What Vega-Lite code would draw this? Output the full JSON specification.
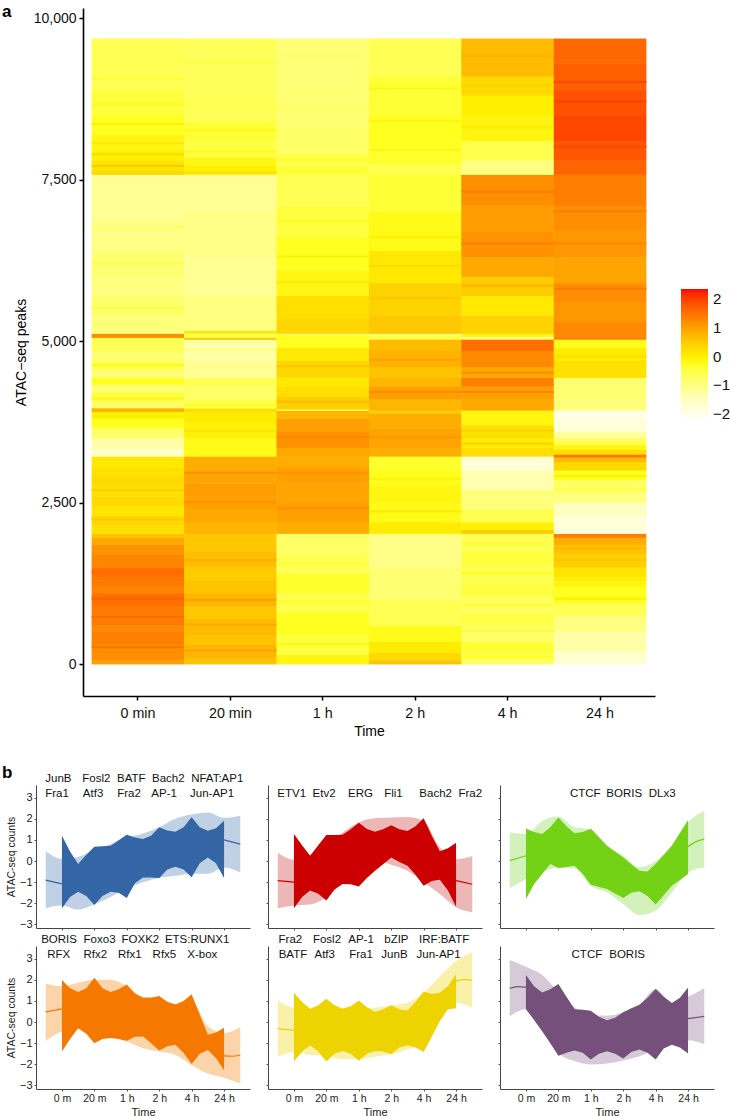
{"$schema":"https://vega.github.io/schema/vega-lite/v6.json","background":"white","padding":{"left":1,"top":2,"right":0,"bottom":0},"config":{"font":"Liberation Sans","view":{"stroke":null},"axis":{"grid":false,"labelFont":"Liberation Sans","titleFont":"Liberation Sans","titleFontWeight":"normal"},"text":{"font":"Liberation Sans"}},"bounds":"flush","spacing":89,"datasets":{
"heat":[
{"t":"0 min","a":0,"b":60,"v":1.0},{"t":"0 min","a":60,"b":300,"v":1.2},{"t":"0 min","a":300,"b":500,"v":1.35},{"t":"0 min","a":500,"b":600,"v":1.25},{"t":"0 min","a":600,"b":900,"v":1.4},{"t":"0 min","a":900,"b":1100,"v":1.5},{"t":"0 min","a":1100,"b":1200,"v":1.3},{"t":"0 min","a":1200,"b":1350,"v":1.42},{"t":"0 min","a":1350,"b":1500,"v":1.48},{"t":"0 min","a":1500,"b":1700,"v":1.3},{"t":"0 min","a":1700,"b":1850,"v":1.15},{"t":"0 min","a":1850,"b":1960,"v":0.9},{"t":"0 min","a":1960,"b":2021,"v":0.6},
{"t":"0 min","a":2021,"b":2150,"v":0.2},{"t":"0 min","a":2150,"b":2300,"v":0.35},{"t":"0 min","a":2300,"b":2450,"v":0.15},{"t":"0 min","a":2450,"b":2600,"v":0.3},{"t":"0 min","a":2600,"b":2750,"v":0.2},{"t":"0 min","a":2750,"b":2900,"v":0.3},{"t":"0 min","a":2900,"b":3050,"v":0.2},{"t":"0 min","a":3050,"b":3218,"v":0.1},
{"t":"0 min","a":3218,"b":3330,"v":-1.6},{"t":"0 min","a":3330,"b":3500,"v":-1.3},{"t":"0 min","a":3500,"b":3650,"v":-0.8},{"t":"0 min","a":3650,"b":3800,"v":-0.3},{"t":"0 min","a":3800,"b":3905,"v":0.0},{"t":"0 min","a":3905,"b":3965,"v":0.8},{"t":"0 min","a":3965,"b":4060,"v":-0.8},{"t":"0 min","a":4060,"b":4200,"v":-0.5},{"t":"0 min","a":4200,"b":4330,"v":-0.7},{"t":"0 min","a":4330,"b":4435,"v":-0.3},{"t":"0 min","a":4435,"b":4550,"v":-0.9},{"t":"0 min","a":4550,"b":4700,"v":-0.6},{"t":"0 min","a":4700,"b":4850,"v":-0.85},{"t":"0 min","a":4850,"b":5056,"v":-0.6},{"t":"0 min","a":5056,"b":5116,"v":1.2},
{"t":"0 min","a":5116,"b":5400,"v":-0.95},{"t":"0 min","a":5400,"b":5700,"v":-0.8},{"t":"0 min","a":5700,"b":6000,"v":-1.0},{"t":"0 min","a":6000,"b":6400,"v":-0.85},{"t":"0 min","a":6400,"b":6900,"v":-1.05},{"t":"0 min","a":6900,"b":7580,"v":-1.15},
{"t":"0 min","a":7580,"b":7650,"v":0.3},{"t":"0 min","a":7650,"b":7800,"v":0.15},{"t":"0 min","a":7800,"b":7950,"v":0.0},{"t":"0 min","a":7950,"b":8200,"v":-0.15},{"t":"0 min","a":8200,"b":8500,"v":-0.3},{"t":"0 min","a":8500,"b":8900,"v":-0.45},{"t":"0 min","a":8900,"b":9684,"v":-0.6},
{"t":"20 min","a":0,"b":100,"v":0.6},{"t":"20 min","a":100,"b":300,"v":0.75},{"t":"20 min","a":300,"b":450,"v":0.6},{"t":"20 min","a":450,"b":700,"v":0.7},{"t":"20 min","a":700,"b":900,"v":0.55},{"t":"20 min","a":900,"b":1100,"v":0.75},{"t":"20 min","a":1100,"b":1300,"v":0.6},{"t":"20 min","a":1300,"b":1500,"v":0.5},{"t":"20 min","a":1500,"b":1750,"v":0.65},{"t":"20 min","a":1750,"b":2021,"v":0.55},
{"t":"20 min","a":2021,"b":2200,"v":0.75},{"t":"20 min","a":2200,"b":2400,"v":0.9},{"t":"20 min","a":2400,"b":2600,"v":0.98},{"t":"20 min","a":2600,"b":2800,"v":1.05},{"t":"20 min","a":2800,"b":3000,"v":0.95},{"t":"20 min","a":3000,"b":3218,"v":0.85},
{"t":"20 min","a":3218,"b":3500,"v":-0.2},{"t":"20 min","a":3500,"b":3750,"v":-0.05},{"t":"20 min","a":3750,"b":3900,"v":0.05},{"t":"20 min","a":3900,"b":3960,"v":0.25},{"t":"20 min","a":3960,"b":4100,"v":-0.55},{"t":"20 min","a":4100,"b":4300,"v":-0.75},{"t":"20 min","a":4300,"b":4435,"v":-0.6},{"t":"20 min","a":4435,"b":4700,"v":-1.15},{"t":"20 min","a":4700,"b":5020,"v":-1.3},{"t":"20 min","a":5020,"b":5060,"v":0.45},{"t":"20 min","a":5060,"b":5120,"v":-0.6},{"t":"20 min","a":5120,"b":5160,"v":0.1},
{"t":"20 min","a":5160,"b":5700,"v":-1.0},{"t":"20 min","a":5700,"b":6300,"v":-1.15},{"t":"20 min","a":6300,"b":7000,"v":-1.05},{"t":"20 min","a":7000,"b":7580,"v":-1.15},
{"t":"20 min","a":7580,"b":7720,"v":0.0},{"t":"20 min","a":7720,"b":7850,"v":-0.15},{"t":"20 min","a":7850,"b":8100,"v":-0.5},{"t":"20 min","a":8100,"b":8400,"v":-0.4},{"t":"20 min","a":8400,"b":8800,"v":-0.6},{"t":"20 min","a":8800,"b":9684,"v":-0.65},
{"t":"1 h","a":0,"b":150,"v":-0.1},{"t":"1 h","a":150,"b":450,"v":-0.45},{"t":"1 h","a":450,"b":800,"v":-0.3},{"t":"1 h","a":800,"b":1100,"v":-0.55},{"t":"1 h","a":1100,"b":1400,"v":-0.35},{"t":"1 h","a":1400,"b":1700,"v":-0.6},{"t":"1 h","a":1700,"b":2021,"v":-0.75},
{"t":"1 h","a":2021,"b":2200,"v":0.85},{"t":"1 h","a":2200,"b":2500,"v":1.0},{"t":"1 h","a":2500,"b":2800,"v":0.95},{"t":"1 h","a":2800,"b":3050,"v":1.0},{"t":"1 h","a":3050,"b":3218,"v":0.85},
{"t":"1 h","a":3218,"b":3350,"v":0.9},{"t":"1 h","a":3350,"b":3600,"v":1.15},{"t":"1 h","a":3600,"b":3800,"v":1.0},{"t":"1 h","a":3800,"b":3925,"v":0.75},{"t":"1 h","a":3925,"b":3950,"v":-0.5},{"t":"1 h","a":3950,"b":4150,"v":0.45},{"t":"1 h","a":4150,"b":4300,"v":0.25},{"t":"1 h","a":4300,"b":4435,"v":0.1},{"t":"1 h","a":4435,"b":4700,"v":0.35},{"t":"1 h","a":4700,"b":4900,"v":0.1},{"t":"1 h","a":4900,"b":5100,"v":-0.3},{"t":"1 h","a":5100,"b":5116,"v":-1.2},{"t":"1 h","a":5116,"b":5350,"v":0.35},
{"t":"1 h","a":5350,"b":5700,"v":0.25},{"t":"1 h","a":5700,"b":6100,"v":-0.15},{"t":"1 h","a":6100,"b":6600,"v":-0.3},{"t":"1 h","a":6600,"b":7100,"v":-0.45},{"t":"1 h","a":7100,"b":7580,"v":-0.6},
{"t":"1 h","a":7580,"b":7700,"v":-0.4},{"t":"1 h","a":7700,"b":7900,"v":-0.55},{"t":"1 h","a":7900,"b":8300,"v":-0.75},{"t":"1 h","a":8300,"b":8900,"v":-0.85},{"t":"1 h","a":8900,"b":9684,"v":-0.9},
{"t":"2 h","a":0,"b":60,"v":0.6},{"t":"2 h","a":60,"b":180,"v":0.3},{"t":"2 h","a":180,"b":350,"v":0.05},{"t":"2 h","a":350,"b":600,"v":-0.25},{"t":"2 h","a":600,"b":1000,"v":-0.6},{"t":"2 h","a":1000,"b":1500,"v":-0.85},{"t":"2 h","a":1500,"b":2021,"v":-1.05},
{"t":"2 h","a":2021,"b":2200,"v":0.05},{"t":"2 h","a":2200,"b":2500,"v":-0.2},{"t":"2 h","a":2500,"b":2750,"v":-0.1},{"t":"2 h","a":2750,"b":3000,"v":-0.25},{"t":"2 h","a":3000,"b":3218,"v":-0.35},
{"t":"2 h","a":3218,"b":3350,"v":0.85},{"t":"2 h","a":3350,"b":3650,"v":0.95},{"t":"2 h","a":3650,"b":3880,"v":0.85},{"t":"2 h","a":3880,"b":3930,"v":0.5},{"t":"2 h","a":3930,"b":4100,"v":0.75},{"t":"2 h","a":4100,"b":4300,"v":1.0},{"t":"2 h","a":4300,"b":4435,"v":0.75},{"t":"2 h","a":4435,"b":4600,"v":0.6},{"t":"2 h","a":4600,"b":4850,"v":0.8},{"t":"2 h","a":4850,"b":5028,"v":0.7},{"t":"2 h","a":5028,"b":5090,"v":-0.5},{"t":"2 h","a":5090,"b":5116,"v":-1.0},
{"t":"2 h","a":5116,"b":5400,"v":0.55},{"t":"2 h","a":5400,"b":5900,"v":0.4},{"t":"2 h","a":5900,"b":6400,"v":0.1},{"t":"2 h","a":6400,"b":7000,"v":-0.2},{"t":"2 h","a":7000,"b":7580,"v":-0.4},
{"t":"2 h","a":7580,"b":7750,"v":-0.55},{"t":"2 h","a":7750,"b":8000,"v":-0.35},{"t":"2 h","a":8000,"b":8500,"v":-0.3},{"t":"2 h","a":8500,"b":9100,"v":-0.4},{"t":"2 h","a":9100,"b":9684,"v":-0.6},
{"t":"4 h","a":0,"b":150,"v":-0.7},{"t":"4 h","a":150,"b":350,"v":-0.4},{"t":"4 h","a":350,"b":600,"v":-0.75},{"t":"4 h","a":600,"b":800,"v":-0.5},{"t":"4 h","a":800,"b":1050,"v":-0.7},{"t":"4 h","a":1050,"b":1250,"v":-0.45},{"t":"4 h","a":1250,"b":1500,"v":-0.6},{"t":"4 h","a":1500,"b":1750,"v":-0.45},{"t":"4 h","a":1750,"b":2021,"v":-0.6},
{"t":"4 h","a":2021,"b":2080,"v":0.5},{"t":"4 h","a":2080,"b":2200,"v":-0.05},{"t":"4 h","a":2200,"b":2400,"v":-0.55},{"t":"4 h","a":2400,"b":2700,"v":-0.95},{"t":"4 h","a":2700,"b":3000,"v":-1.35},{"t":"4 h","a":3000,"b":3218,"v":-1.75},
{"t":"4 h","a":3218,"b":3350,"v":0.25},{"t":"4 h","a":3350,"b":3500,"v":0.05},{"t":"4 h","a":3500,"b":3700,"v":0.2},{"t":"4 h","a":3700,"b":3929,"v":-0.1},{"t":"4 h","a":3929,"b":4100,"v":0.9},{"t":"4 h","a":4100,"b":4300,"v":1.0},{"t":"4 h","a":4300,"b":4435,"v":1.35},{"t":"4 h","a":4435,"b":4600,"v":0.9},{"t":"4 h","a":4600,"b":4850,"v":1.25},{"t":"4 h","a":4850,"b":5028,"v":1.5},{"t":"4 h","a":5028,"b":5070,"v":-1.0},{"t":"4 h","a":5070,"b":5116,"v":-0.1},
{"t":"4 h","a":5116,"b":5400,"v":0.4},{"t":"4 h","a":5400,"b":5700,"v":0.1},{"t":"4 h","a":5700,"b":6000,"v":0.5},{"t":"4 h","a":6000,"b":6300,"v":0.9},{"t":"4 h","a":6300,"b":6700,"v":1.15},{"t":"4 h","a":6700,"b":7100,"v":1.05},{"t":"4 h","a":7100,"b":7580,"v":1.2},
{"t":"4 h","a":7580,"b":7800,"v":-1.0},{"t":"4 h","a":7800,"b":8100,"v":-0.55},{"t":"4 h","a":8100,"b":8500,"v":-0.1},{"t":"4 h","a":8500,"b":8800,"v":0.0},{"t":"4 h","a":8800,"b":9100,"v":0.3},{"t":"4 h","a":9100,"b":9684,"v":0.7},
{"t":"24 h","a":0,"b":200,"v":-1.7},{"t":"24 h","a":200,"b":500,"v":-1.3},{"t":"24 h","a":500,"b":750,"v":-1.0},{"t":"24 h","a":750,"b":950,"v":-0.6},{"t":"24 h","a":950,"b":1200,"v":-0.3},{"t":"24 h","a":1200,"b":1350,"v":-0.1},{"t":"24 h","a":1350,"b":1500,"v":0.15},{"t":"24 h","a":1500,"b":1700,"v":0.45},{"t":"24 h","a":1700,"b":1850,"v":0.6},{"t":"24 h","a":1850,"b":1960,"v":0.85},{"t":"24 h","a":1960,"b":2021,"v":1.35},
{"t":"24 h","a":2021,"b":2300,"v":-1.8},{"t":"24 h","a":2300,"b":2500,"v":-1.5},{"t":"24 h","a":2500,"b":2650,"v":-1.0},{"t":"24 h","a":2650,"b":2850,"v":-0.75},{"t":"24 h","a":2850,"b":3000,"v":-0.3},{"t":"24 h","a":3000,"b":3130,"v":0.3},{"t":"24 h","a":3130,"b":3200,"v":0.7},{"t":"24 h","a":3200,"b":3250,"v":1.4},{"t":"24 h","a":3250,"b":3320,"v":0.25},{"t":"24 h","a":3320,"b":3400,"v":-0.1},{"t":"24 h","a":3400,"b":3500,"v":-0.6},{"t":"24 h","a":3500,"b":3600,"v":-1.2},{"t":"24 h","a":3600,"b":3800,"v":-1.8},{"t":"24 h","a":3800,"b":3929,"v":-2.0},
{"t":"24 h","a":3929,"b":4100,"v":-0.95},{"t":"24 h","a":4100,"b":4435,"v":-0.85},{"t":"24 h","a":4435,"b":4700,"v":0.2},{"t":"24 h","a":4700,"b":4900,"v":0.05},{"t":"24 h","a":4900,"b":5028,"v":-0.25},{"t":"24 h","a":5028,"b":5060,"v":1.4},
{"t":"24 h","a":5060,"b":5300,"v":1.25},{"t":"24 h","a":5300,"b":5600,"v":1.1},{"t":"24 h","a":5600,"b":5900,"v":1.2},{"t":"24 h","a":5900,"b":6300,"v":0.95},{"t":"24 h","a":6300,"b":6700,"v":1.1},{"t":"24 h","a":6700,"b":7100,"v":1.2},{"t":"24 h","a":7100,"b":7580,"v":1.35},
{"t":"24 h","a":7580,"b":7800,"v":1.65},{"t":"24 h","a":7800,"b":8100,"v":1.8},{"t":"24 h","a":8100,"b":8500,"v":1.95},{"t":"24 h","a":8500,"b":8900,"v":1.85},{"t":"24 h","a":8900,"b":9300,"v":1.7},{"t":"24 h","a":9300,"b":9684,"v":1.6},
{"t":"0 min","a":7700,"b":7730,"v":0.55},{"t":"0 min","a":7880,"b":7910,"v":0.3},{"t":"0 min","a":8050,"b":8080,"v":0.1},{"t":"0 min","a":8350,"b":8380,"v":-0.05},{"t":"0 min","a":8650,"b":8680,"v":-0.2},{"t":"0 min","a":9050,"b":9080,"v":-0.35},{"t":"0 min","a":6200,"b":6230,"v":-0.5},{"t":"0 min","a":5500,"b":5530,"v":-0.45},{"t":"0 min","a":6750,"b":6780,"v":-0.7},{"t":"0 min","a":250,"b":280,"v":1.5},{"t":"0 min","a":720,"b":750,"v":1.6},{"t":"0 min","a":1000,"b":1030,"v":1.7},{"t":"0 min","a":1420,"b":1450,"v":1.65},{"t":"0 min","a":2230,"b":2260,"v":0.55},{"t":"0 min","a":2680,"b":2710,"v":0.5},{"t":"0 min","a":4100,"b":4130,"v":-0.1},{"t":"0 min","a":4250,"b":4280,"v":-1.1},{"t":"0 min","a":4620,"b":4650,"v":-0.2},
{"t":"20 min","a":7600,"b":7630,"v":0.25},{"t":"20 min","a":7920,"b":7950,"v":-0.2},{"t":"20 min","a":8250,"b":8280,"v":-0.15},{"t":"20 min","a":9300,"b":9330,"v":-0.45},{"t":"20 min","a":200,"b":230,"v":0.95},{"t":"20 min","a":600,"b":630,"v":0.9},{"t":"20 min","a":980,"b":1010,"v":1.0},{"t":"20 min","a":1600,"b":1630,"v":0.85},{"t":"20 min","a":2500,"b":2530,"v":1.2},{"t":"20 min","a":2950,"b":2980,"v":1.2},{"t":"20 min","a":3600,"b":3630,"v":0.2},{"t":"20 min","a":4000,"b":4030,"v":-0.3},{"t":"20 min","a":4850,"b":4880,"v":-1.0},
{"t":"1 h","a":7800,"b":7830,"v":-0.3},{"t":"1 h","a":8600,"b":8630,"v":-0.65},{"t":"1 h","a":9400,"b":9430,"v":-0.7},{"t":"1 h","a":6300,"b":6330,"v":0.0},{"t":"1 h","a":6850,"b":6880,"v":-0.2},{"t":"1 h","a":5900,"b":5930,"v":0.1},{"t":"1 h","a":300,"b":330,"v":-0.15},{"t":"1 h","a":950,"b":980,"v":-0.3},{"t":"1 h","a":1550,"b":1580,"v":-0.35},{"t":"1 h","a":2400,"b":2430,"v":1.2},{"t":"1 h","a":2950,"b":2980,"v":1.15},{"t":"1 h","a":3500,"b":3530,"v":1.3},{"t":"1 h","a":4050,"b":4080,"v":0.7},{"t":"1 h","a":4600,"b":4630,"v":0.6},
{"t":"2 h","a":7950,"b":7980,"v":-0.1},{"t":"2 h","a":8400,"b":8430,"v":-0.1},{"t":"2 h","a":8900,"b":8930,"v":-0.15},{"t":"2 h","a":6600,"b":6630,"v":0.0},{"t":"2 h","a":6150,"b":6180,"v":0.3},{"t":"2 h","a":5650,"b":5680,"v":0.6},{"t":"2 h","a":2350,"b":2380,"v":0.1},{"t":"2 h","a":2850,"b":2880,"v":-0.05},{"t":"2 h","a":3500,"b":3530,"v":1.1},{"t":"2 h","a":4200,"b":4230,"v":1.25},{"t":"2 h","a":4700,"b":4730,"v":1.0},
{"t":"4 h","a":8300,"b":8330,"v":0.1},{"t":"4 h","a":8950,"b":8980,"v":0.45},{"t":"4 h","a":9400,"b":9430,"v":0.85},{"t":"4 h","a":5850,"b":5880,"v":0.8},{"t":"4 h","a":6500,"b":6530,"v":1.35},{"t":"4 h","a":7300,"b":7330,"v":1.4},{"t":"4 h","a":100,"b":130,"v":-0.3},{"t":"4 h","a":500,"b":530,"v":-0.4},{"t":"4 h","a":900,"b":930,"v":-0.35},{"t":"4 h","a":1400,"b":1430,"v":-0.3},{"t":"4 h","a":1850,"b":1880,"v":-0.35},{"t":"4 h","a":3400,"b":3430,"v":0.45},{"t":"4 h","a":3600,"b":3630,"v":0.4},{"t":"4 h","a":4500,"b":4530,"v":1.2},{"t":"4 h","a":4200,"b":4230,"v":1.3},
{"t":"24 h","a":8000,"b":8030,"v":1.95},{"t":"24 h","a":8700,"b":8730,"v":2.05},{"t":"24 h","a":9000,"b":9030,"v":1.95},{"t":"24 h","a":5800,"b":5830,"v":1.4},{"t":"24 h","a":6500,"b":6530,"v":1.3},{"t":"24 h","a":7000,"b":7030,"v":1.4},{"t":"24 h","a":1000,"b":1030,"v":0.0},{"t":"24 h","a":1300,"b":1330,"v":0.1},{"t":"24 h","a":1600,"b":1630,"v":0.6},{"t":"24 h","a":1780,"b":1810,"v":0.75},{"t":"24 h","a":2900,"b":2930,"v":0.0},{"t":"24 h","a":2700,"b":2730,"v":-0.5},{"t":"24 h","a":4750,"b":4780,"v":0.3}
],
"tags":[{"t":"0 min","y":10105,"s":"a"},{"t":"0 min","y":-1680,"s":"b"}],
"r1":[{"x":-0.5,"lo":-2.23,"hi":0.46},{"x":0,"lo":-2.1,"hi":0.1},{"x":0.5,"lo":-2.3,"hi":0.2},{"x":1,"lo":-2.05,"hi":0.5},{"x":1.5,"lo":-1.7,"hi":0.8},{"x":2,"lo":-1.3,"hi":1.1},{"x":2.5,"lo":-1.0,"hi":1.3},{"x":3,"lo":-0.8,"hi":1.6},{"x":3.5,"lo":-0.7,"hi":2.0},{"x":4,"lo":-0.6,"hi":2.2},{"x":4.5,"lo":-0.6,"hi":2.3},{"x":5,"lo":-0.3,"hi":2.05},{"x":5.5,"lo":-0.54,"hi":2.15}],
"d1":[{"x":0,"lo":-2.23,"hi":1.2},{"x":0.25,"lo":-1.7,"hi":0.45},{"x":0.5,"lo":-1.45,"hi":-0.14},{"x":0.75,"lo":-1.65,"hi":0.3},{"x":1,"lo":-2.08,"hi":0.68},{"x":1.25,"lo":-1.65,"hi":0.7},{"x":1.5,"lo":-1.45,"hi":0.72},{"x":1.75,"lo":-1.5,"hi":0.98},{"x":2,"lo":-1.75,"hi":1.25},{"x":2.25,"lo":-1.05,"hi":1.12},{"x":2.5,"lo":-0.78,"hi":1.04},{"x":2.75,"lo":-0.78,"hi":1.2},{"x":3,"lo":-0.8,"hi":1.6},{"x":3.25,"lo":-0.4,"hi":1.45},{"x":3.5,"lo":-0.27,"hi":1.39},{"x":3.75,"lo":-0.4,"hi":1.6},{"x":4,"lo":-0.77,"hi":2.07},{"x":4.25,"lo":-0.1,"hi":1.6},{"x":4.5,"lo":0.17,"hi":1.44},{"x":4.75,"lo":-0.1,"hi":1.55},{"x":5,"lo":-0.8,"hi":1.91}],
"l1":[{"x":-0.5,"y":-0.9,"g":"L"},{"x":0,"y":-1.08,"g":"L"},{"x":5,"y":1.0,"g":"R"},{"x":5.5,"y":0.8,"g":"R"}],
"t1":[{"x":-0.11,"y":3.9,"s":"JunB"},{"x":-0.15,"y":3.19,"s":"Fra1"},{"x":1.06,"y":3.9,"s":"Fosl2"},{"x":0.96,"y":3.19,"s":"Atf3"},{"x":2.14,"y":3.9,"s":"BATF"},{"x":2.07,"y":3.19,"s":"Fra2"},{"x":3.28,"y":3.9,"s":"Bach2"},{"x":3.15,"y":3.19,"s":"AP-1"},{"x":4.79,"y":3.9,"s":"NFAT:AP1"},{"x":4.63,"y":3.19,"s":"Jun-AP1"}],
"r2":[{"x":-0.5,"lo":-2.24,"hi":0.39},{"x":0,"lo":-2.11,"hi":0.06},{"x":0.5,"lo":-2.06,"hi":0.3},{"x":1,"lo":-1.72,"hi":0.8},{"x":1.5,"lo":-1.0,"hi":1.35},{"x":2,"lo":-0.46,"hi":1.83},{"x":2.5,"lo":0.0,"hi":2.02},{"x":3,"lo":-0.17,"hi":2.06},{"x":3.5,"lo":-0.46,"hi":2.09},{"x":4,"lo":-1.0,"hi":1.9},{"x":4.5,"lo":-1.56,"hi":0.65},{"x":5,"lo":-2.19,"hi":0.08},{"x":5.5,"lo":-2.43,"hi":0.24}],
"d2":[{"x":0,"lo":-2.24,"hi":1.28},{"x":0.25,"lo":-1.7,"hi":0.75},{"x":0.5,"lo":-1.4,"hi":0.25},{"x":0.75,"lo":-1.55,"hi":0.75},{"x":1,"lo":-1.87,"hi":1.23},{"x":1.25,"lo":-1.35,"hi":1.23},{"x":1.5,"lo":-1.09,"hi":1.24},{"x":1.75,"lo":-1.1,"hi":1.5},{"x":2,"lo":-1.21,"hi":1.81},{"x":2.25,"lo":-0.8,"hi":1.52},{"x":2.5,"lo":-0.46,"hi":1.39},{"x":2.75,"lo":-0.15,"hi":1.5},{"x":3,"lo":0.17,"hi":1.7},{"x":3.25,"lo":-0.05,"hi":1.5},{"x":3.5,"lo":-0.22,"hi":1.42},{"x":3.75,"lo":-0.65,"hi":1.65},{"x":4,"lo":-1.17,"hi":2.03},{"x":4.25,"lo":-0.95,"hi":1.2},{"x":4.5,"lo":-0.88,"hi":0.46},{"x":4.75,"lo":-1.4,"hi":0.6},{"x":5,"lo":-2.16,"hi":0.87}],
"l2":[{"x":-0.5,"y":-0.93,"g":"L"},{"x":0,"y":-1.0,"g":"L"},{"x":5,"y":-0.93,"g":"R"},{"x":5.5,"y":-1.1,"g":"R"}],
"t2":[{"x":-0.07,"y":3.19,"s":"ETV1"},{"x":0.93,"y":3.19,"s":"Etv2"},{"x":2.05,"y":3.19,"s":"ERG"},{"x":3.07,"y":3.19,"s":"Fli1"},{"x":4.37,"y":3.19,"s":"Bach2"},{"x":5.44,"y":3.19,"s":"Fra2"}],
"r3":[{"x":-0.5,"lo":-1.29,"hi":1.35},{"x":0,"lo":-0.85,"hi":1.28},{"x":0.5,"lo":-0.5,"hi":1.9},{"x":1,"lo":-0.3,"hi":2.11},{"x":1.5,"lo":-0.35,"hi":1.6},{"x":2,"lo":-1.17,"hi":1.5},{"x":2.5,"lo":-1.48,"hi":0.72},{"x":3,"lo":-2.03,"hi":0.25},{"x":3.5,"lo":-2.55,"hi":-0.3},{"x":4,"lo":-2.35,"hi":0.0},{"x":4.5,"lo":-1.48,"hi":0.75},{"x":5,"lo":-0.54,"hi":1.83},{"x":5.5,"lo":-0.3,"hi":2.38}],
"d3":[{"x":0,"lo":-1.8,"hi":1.54},{"x":0.25,"lo":-1.1,"hi":1.38},{"x":0.5,"lo":-0.61,"hi":1.28},{"x":0.75,"lo":-0.14,"hi":1.6},{"x":1,"lo":-0.33,"hi":2.06},{"x":1.25,"lo":-0.28,"hi":1.65},{"x":1.5,"lo":-0.22,"hi":1.32},{"x":1.75,"lo":-0.6,"hi":1.38},{"x":2,"lo":-1.12,"hi":1.53},{"x":2.5,"lo":-1.32,"hi":0.72},{"x":3,"lo":-1.75,"hi":0.17},{"x":3.25,"lo":-1.5,"hi":-0.15},{"x":3.5,"lo":-1.43,"hi":-0.46},{"x":3.75,"lo":-1.65,"hi":-0.5},{"x":4,"lo":-2.06,"hi":-0.14},{"x":4.5,"lo":-1.17,"hi":0.72},{"x":5,"lo":-0.61,"hi":1.94}],
"l3":[{"x":-0.5,"y":0.02,"g":"L"},{"x":0,"y":0.25,"g":"L"},{"x":5,"y":0.68,"g":"R"},{"x":5.25,"y":0.92,"g":"R"},{"x":5.5,"y":1.04,"g":"R"}],
"t3":[{"x":1.83,"y":3.19,"s":"CTCF"},{"x":3.03,"y":3.19,"s":"BORIS"},{"x":4.2,"y":3.19,"s":"DLx3"}],
"r4":[{"x":-0.5,"lo":-0.88,"hi":1.83},{"x":0,"lo":-0.45,"hi":1.7},{"x":0.5,"lo":-0.3,"hi":1.86},{"x":1,"lo":-0.45,"hi":2.0},{"x":1.5,"lo":-0.68,"hi":2.0},{"x":2,"lo":-0.92,"hi":1.7},{"x":2.5,"lo":-1.24,"hi":1.2},{"x":3,"lo":-1.4,"hi":1.15},{"x":3.5,"lo":-1.56,"hi":0.85},{"x":4,"lo":-2.04,"hi":1.0},{"x":4.5,"lo":-2.44,"hi":-0.2},{"x":5,"lo":-2.64,"hi":-0.52},{"x":5.5,"lo":-2.91,"hi":-0.25}],
"d4":[{"x":0,"lo":-1.4,"hi":1.99},{"x":0.25,"lo":-0.8,"hi":1.6},{"x":0.5,"lo":-0.29,"hi":1.42},{"x":0.75,"lo":-0.55,"hi":1.6},{"x":1,"lo":-1.0,"hi":2.1},{"x":1.25,"lo":-0.8,"hi":1.6},{"x":1.5,"lo":-0.76,"hi":1.42},{"x":1.75,"lo":-0.8,"hi":1.55},{"x":2,"lo":-0.88,"hi":1.78},{"x":2.25,"lo":-0.7,"hi":1.35},{"x":2.5,"lo":-0.68,"hi":1.15},{"x":2.75,"lo":-1.0,"hi":1.15},{"x":3,"lo":-1.35,"hi":1.23},{"x":3.25,"lo":-1.15,"hi":0.95},{"x":3.5,"lo":-1.08,"hi":0.83},{"x":3.75,"lo":-1.45,"hi":1.0},{"x":4,"lo":-1.99,"hi":1.31},{"x":4.25,"lo":-1.5,"hi":0.35},{"x":4.5,"lo":-1.32,"hi":-0.6},{"x":4.75,"lo":-1.7,"hi":-0.5},{"x":5,"lo":-2.28,"hi":-0.27}],
"l4":[{"x":-0.5,"y":0.48,"g":"L"},{"x":0,"y":0.62,"g":"L"},{"x":5,"y":-1.6,"g":"R"},{"x":5.25,"y":-1.62,"g":"R"},{"x":5.5,"y":-1.56,"g":"R"}],
"t4":[{"x":-0.09,"y":3.88,"s":"BORIS"},{"x":1.16,"y":3.88,"s":"Foxo3"},{"x":2.42,"y":3.88,"s":"FOXK2"},{"x":4.17,"y":3.88,"s":"ETS:RUNX1"},{"x":-0.1,"y":3.18,"s":"RFX"},{"x":1.03,"y":3.18,"s":"Rfx2"},{"x":2.09,"y":3.18,"s":"Rfx1"},{"x":3.16,"y":3.18,"s":"Rfx5"},{"x":4.33,"y":3.18,"s":"X-box"}],
"r5":[{"x":-0.5,"lo":-1.64,"hi":1.02},{"x":0,"lo":-1.42,"hi":0.68},{"x":0.5,"lo":-1.56,"hi":0.63},{"x":1,"lo":-1.6,"hi":0.63},{"x":1.5,"lo":-1.76,"hi":0.68},{"x":2,"lo":-1.76,"hi":0.68},{"x":2.5,"lo":-1.64,"hi":0.68},{"x":3,"lo":-1.53,"hi":0.79},{"x":3.5,"lo":-1.29,"hi":0.91},{"x":4,"lo":-0.98,"hi":1.39},{"x":4.5,"lo":0.28,"hi":2.17},{"x":5,"lo":0.91,"hi":2.88},{"x":5.5,"lo":0.66,"hi":3.32}],
"d5":[{"x":0,"lo":-1.87,"hi":1.39},{"x":0.25,"lo":-1.4,"hi":0.95},{"x":0.5,"lo":-1.1,"hi":0.63},{"x":0.75,"lo":-1.4,"hi":0.8},{"x":1,"lo":-1.87,"hi":1.1},{"x":1.25,"lo":-1.5,"hi":0.8},{"x":1.5,"lo":-1.37,"hi":0.63},{"x":1.75,"lo":-1.5,"hi":0.75},{"x":2,"lo":-1.83,"hi":1.02},{"x":2.25,"lo":-1.5,"hi":0.7},{"x":2.5,"lo":-1.37,"hi":0.47},{"x":2.75,"lo":-1.4,"hi":0.6},{"x":3,"lo":-1.51,"hi":0.79},{"x":3.25,"lo":-1.2,"hi":0.6},{"x":3.5,"lo":-1.1,"hi":0.55},{"x":3.75,"lo":-1.2,"hi":0.95},{"x":4,"lo":-1.42,"hi":1.45},{"x":4.25,"lo":-0.7,"hi":1.33},{"x":4.5,"lo":0.05,"hi":1.39},{"x":4.75,"lo":0.6,"hi":1.7},{"x":5,"lo":0.65,"hi":2.28}],
"l5":[{"x":-0.5,"y":-0.31,"g":"L"},{"x":0,"y":-0.39,"g":"L"},{"x":5,"y":1.94,"g":"R"},{"x":5.25,"y":2.02,"g":"R"},{"x":5.5,"y":1.97,"g":"R"}],
"t5":[{"x":-0.11,"y":3.88,"s":"Fra2"},{"x":1.02,"y":3.88,"s":"Fosl2"},{"x":2.07,"y":3.88,"s":"AP-1"},{"x":3.16,"y":3.88,"s":"bZIP"},{"x":4.63,"y":3.88,"s":"IRF:BATF"},{"x":-0.03,"y":3.18,"s":"BATF"},{"x":0.95,"y":3.18,"s":"Atf3"},{"x":2.07,"y":3.18,"s":"Fra1"},{"x":3.1,"y":3.18,"s":"JunB"},{"x":4.46,"y":3.18,"s":"Jun-AP1"}],
"r6":[{"x":-0.5,"lo":0.27,"hi":2.94},{"x":0,"lo":0.61,"hi":2.62},{"x":0.5,"lo":-0.36,"hi":2.23},{"x":1,"lo":-1.46,"hi":1.44},{"x":1.5,"lo":-1.85,"hi":0.7},{"x":2,"lo":-2.01,"hi":0.35},{"x":2.5,"lo":-1.96,"hi":0.3},{"x":3,"lo":-1.82,"hi":0.46},{"x":3.5,"lo":-1.62,"hi":0.82},{"x":4,"lo":-1.3,"hi":1.57},{"x":4.5,"lo":-1.07,"hi":0.9},{"x":5,"lo":-0.86,"hi":1.2},{"x":5.5,"lo":-1.04,"hi":1.6}],
"d6":[{"x":0,"lo":0.61,"hi":2.23},{"x":0.25,"lo":0.1,"hi":1.7},{"x":0.5,"lo":-0.44,"hi":1.4},{"x":0.75,"lo":-1.0,"hi":1.55},{"x":1,"lo":-1.59,"hi":1.8},{"x":1.25,"lo":-1.45,"hi":1.2},{"x":1.5,"lo":-1.35,"hi":0.61},{"x":1.75,"lo":-1.45,"hi":0.58},{"x":2,"lo":-1.77,"hi":0.53},{"x":2.25,"lo":-1.5,"hi":0.25},{"x":2.5,"lo":-1.38,"hi":0.08},{"x":2.75,"lo":-1.5,"hi":0.2},{"x":3,"lo":-1.73,"hi":0.46},{"x":3.25,"lo":-1.42,"hi":0.65},{"x":3.5,"lo":-1.3,"hi":0.82},{"x":3.75,"lo":-1.45,"hi":1.15},{"x":4,"lo":-1.77,"hi":1.57},{"x":4.25,"lo":-1.25,"hi":1.2},{"x":4.5,"lo":-1.07,"hi":0.9},{"x":4.75,"lo":-1.2,"hi":1.15},{"x":5,"lo":-1.49,"hi":1.63}],
"l6":[{"x":-0.5,"y":1.6,"g":"L"},{"x":-0.25,"y":1.68,"g":"L"},{"x":0,"y":1.65,"g":"L"},{"x":5,"y":0.16,"g":"R"},{"x":5.5,"y":0.27,"g":"R"}],
"t6":[{"x":1.88,"y":3.18,"s":"CTCF"},{"x":3.12,"y":3.18,"s":"BORIS"}]
},
"vconcat":[
{"width":619,"height":688,"encoding":{
"x":{"field":"t","type":"nominal","sort":["0 min","20 min","1 h","2 h","4 h","24 h"],"scale":{"type":"band","range":[47,619],"paddingInner":0,"paddingOuter":0.095},"axis":{"title":"Time","titleFontSize":14,"titlePadding":4,"labelFontSize":14.3,"labelAngle":0,"labelColor":"#111","labelPadding":6,"tickSize":4,"tickColor":"#000","domainColor":"#000","domainWidth":1.6,"tickWidth":1.5}},
"y":{"field":"a","type":"quantitative","scale":{"domain":[-490,10160],"nice":false,"zero":false},"axis":{"title":"ATAC−seq peaks","titleFontSize":14,"values":[0,2500,5000,7500,10000],"format":",d","offset":-47,"labelFontSize":14,"labelColor":"#111","tickSize":4,"tickColor":"#000","domainColor":"#000","domainWidth":1.6,"tickWidth":1.5,"labelPadding":3,"titlePadding":5}}},
"layer":[
{"data":{"name":"heat"},"mark":{"type":"rect"},"encoding":{"y2":{"field":"b"},
"color":{"field":"v","type":"quantitative","scale":{"domain":[-2.14,-1.5,-1,-0.3,0,0.5,1,1.5,2,2.35],"range":["#FFFFF4","#FFFFC0","#FFFF80","#FFFF20","#FFF000","#FFCC00","#FFA000","#FF7000","#FF4000","#FF0000"],"clamp":true},"legend":{"title":null,"type":"gradient","orient":"none","legendX":645,"legendY":281,"gradientLength":129,"gradientThickness":27,"values":[-2,-1,0,1,2],"labelFontSize":15,"labelOffset":5,"labelColor":"#111","format":"d"}}}},
{"data":{"name":"heat"},"mark":{"type":"rect"},"encoding":{"y2":{"field":"b"},"color":{"field":"v","type":"quantitative"}}},
{"data":{"name":"tags"},"mark":{"type":"text","fontSize":17,"fontWeight":"bold","align":"left","dx":-136,"clip":false},"encoding":{"y":{"field":"y","type":"quantitative"},"text":{"field":"s"}}}
]},
{"vconcat":[
{"hconcat":[
{"width":214,"height":143,"encoding":{"x":{"field":"x","type":"quantitative","scale":{"domain":[-0.8,5.8],"nice":false,"zero":false},"axis":{"title":null,"values":[0,1,2,3,4,5],"tickCount":6,"labels":false,"tickSize":2,"tickColor":"#555","domainColor":"#444"}}},"layer":[
{"data":{"name":"r1"},"mark":{"type":"area","color":"#C0D0E5","interpolate":"monotone"},"encoding":{"y":{"field":"lo","type":"quantitative","scale":{"domain":[-3.17,3.6],"nice":false,"zero":false},"axis":{"title":"ATAC-seq counts","titleFontSize":10.5,"labelFontSize":11,"labelColor":"#222","titleColor":"#222","values":[-3,-2,-1,0,1,2,3],"tickCount":7,"format":"d","tickSize":2,"tickColor":"#555","domainColor":"#444","titlePadding":3,"labelPadding":2}},"y2":{"field":"hi"}}},
{"data":{"name":"l1"},"mark":{"type":"line","color":"#3465A4","strokeWidth":1.2,"interpolate":"monotone"},"encoding":{"y":{"field":"y","type":"quantitative"},"detail":{"field":"g"}}},
{"data":{"name":"d1"},"mark":{"type":"area","color":"#3465A4"},"encoding":{"y":{"field":"lo","type":"quantitative"},"y2":{"field":"hi"}}},
{"data":{"name":"t1"},"mark":{"type":"text","fontSize":11.5,"color":"#111"},"encoding":{"y":{"field":"y","type":"quantitative"},"text":{"field":"s"}}}
]},
{"width":214,"height":143,"encoding":{"x":{"field":"x","type":"quantitative","scale":{"domain":[-0.8,5.8],"nice":false,"zero":false},"axis":{"title":null,"values":[0,1,2,3,4,5],"tickCount":6,"labels":false,"tickSize":2,"tickColor":"#555","domainColor":"#444"}}},"layer":[
{"data":{"name":"r2"},"mark":{"type":"area","color":"#EEB7B7","interpolate":"monotone"},"encoding":{"y":{"field":"lo","type":"quantitative","scale":{"domain":[-3.17,3.6],"nice":false,"zero":false},"axis":{"title":null,"labels":false,"values":[-3,-2,-1,0,1,2,3],"tickCount":7,"tickSize":2,"tickColor":"#555","domainColor":"#444"}},"y2":{"field":"hi"}}},
{"data":{"name":"l2"},"mark":{"type":"line","color":"#CC0000","strokeWidth":1.2,"interpolate":"monotone"},"encoding":{"y":{"field":"y","type":"quantitative"},"detail":{"field":"g"}}},
{"data":{"name":"d2"},"mark":{"type":"area","color":"#CC0000"},"encoding":{"y":{"field":"lo","type":"quantitative"},"y2":{"field":"hi"}}},
{"data":{"name":"t2"},"mark":{"type":"text","fontSize":11.5,"color":"#111"},"encoding":{"y":{"field":"y","type":"quantitative"},"text":{"field":"s"}}}
]},
{"width":214,"height":143,"encoding":{"x":{"field":"x","type":"quantitative","scale":{"domain":[-0.8,5.8],"nice":false,"zero":false},"axis":{"title":null,"values":[0,1,2,3,4,5],"tickCount":6,"labels":false,"tickSize":2,"tickColor":"#555","domainColor":"#444"}}},"layer":[
{"data":{"name":"r3"},"mark":{"type":"area","color":"#D3F1BA","interpolate":"monotone"},"encoding":{"y":{"field":"lo","type":"quantitative","scale":{"domain":[-3.17,3.6],"nice":false,"zero":false},"axis":{"title":null,"labels":false,"values":[-3,-2,-1,0,1,2,3],"tickCount":7,"tickSize":2,"tickColor":"#555","domainColor":"#444"}},"y2":{"field":"hi"}}},
{"data":{"name":"l3"},"mark":{"type":"line","color":"#73D216","strokeWidth":1.2,"interpolate":"monotone"},"encoding":{"y":{"field":"y","type":"quantitative"},"detail":{"field":"g"}}},
{"data":{"name":"d3"},"mark":{"type":"area","color":"#73D216"},"encoding":{"y":{"field":"lo","type":"quantitative"},"y2":{"field":"hi"}}},
{"data":{"name":"t3"},"mark":{"type":"text","fontSize":11.5,"color":"#111"},"encoding":{"y":{"field":"y","type":"quantitative"},"text":{"field":"s"}}}
]}
],"spacing":18,"bounds":"flush"},
{"hconcat":[
{"width":214,"height":143,"encoding":{"x":{"field":"x","type":"quantitative","scale":{"domain":[-0.8,5.8],"nice":false,"zero":false},"axis":{"title":"Time","titleFontSize":11,"titleColor":"#222","titlePadding":3,"labelFontSize":10.5,"labelColor":"#222","labelAngle":0,"values":[0,1,2,3,4,5],"tickCount":6,"labelExpr":"['0 m','20 m','1 h','2 h','4 h','24 h'][datum.value]","tickSize":2,"tickColor":"#555","domainColor":"#444","labelPadding":2}}},"layer":[
{"data":{"name":"r4"},"mark":{"type":"area","color":"#FBD4AA","interpolate":"monotone"},"encoding":{"y":{"field":"lo","type":"quantitative","scale":{"domain":[-3.17,3.6],"nice":false,"zero":false},"axis":{"title":"ATAC-seq counts","titleFontSize":10.5,"labelFontSize":11,"labelColor":"#222","titleColor":"#222","values":[-3,-2,-1,0,1,2,3],"tickCount":7,"format":"d","tickSize":2,"tickColor":"#555","domainColor":"#444","titlePadding":3,"labelPadding":2}},"y2":{"field":"hi"}}},
{"data":{"name":"l4"},"mark":{"type":"line","color":"#F57900","strokeWidth":1.2,"interpolate":"monotone"},"encoding":{"y":{"field":"y","type":"quantitative"},"detail":{"field":"g"}}},
{"data":{"name":"d4"},"mark":{"type":"area","color":"#F57900"},"encoding":{"y":{"field":"lo","type":"quantitative"},"y2":{"field":"hi"}}},
{"data":{"name":"t4"},"mark":{"type":"text","fontSize":11.5,"color":"#111"},"encoding":{"y":{"field":"y","type":"quantitative"},"text":{"field":"s"}}}
]},
{"width":214,"height":143,"encoding":{"x":{"field":"x","type":"quantitative","scale":{"domain":[-0.8,5.8],"nice":false,"zero":false},"axis":{"title":"Time","titleFontSize":11,"titleColor":"#222","titlePadding":3,"labelFontSize":10.5,"labelColor":"#222","labelAngle":0,"values":[0,1,2,3,4,5],"tickCount":6,"labelExpr":"['0 m','20 m','1 h','2 h','4 h','24 h'][datum.value]","tickSize":2,"tickColor":"#555","domainColor":"#444","labelPadding":2}}},"layer":[
{"data":{"name":"r5"},"mark":{"type":"area","color":"#F9F0AA","interpolate":"monotone"},"encoding":{"y":{"field":"lo","type":"quantitative","scale":{"domain":[-3.17,3.6],"nice":false,"zero":false},"axis":{"title":null,"labels":false,"values":[-3,-2,-1,0,1,2,3],"tickCount":7,"tickSize":2,"tickColor":"#555","domainColor":"#444"}},"y2":{"field":"hi"}}},
{"data":{"name":"l5"},"mark":{"type":"line","color":"#EDD400","strokeWidth":1.2,"interpolate":"monotone"},"encoding":{"y":{"field":"y","type":"quantitative"},"detail":{"field":"g"}}},
{"data":{"name":"d5"},"mark":{"type":"area","color":"#EDD400"},"encoding":{"y":{"field":"lo","type":"quantitative"},"y2":{"field":"hi"}}},
{"data":{"name":"t5"},"mark":{"type":"text","fontSize":11.5,"color":"#111"},"encoding":{"y":{"field":"y","type":"quantitative"},"text":{"field":"s"}}}
]},
{"width":214,"height":143,"encoding":{"x":{"field":"x","type":"quantitative","scale":{"domain":[-0.8,5.8],"nice":false,"zero":false},"axis":{"title":"Time","titleFontSize":11,"titleColor":"#222","titlePadding":3,"labelFontSize":10.5,"labelColor":"#222","labelAngle":0,"values":[0,1,2,3,4,5],"tickCount":6,"labelExpr":"['0 m','20 m','1 h','2 h','4 h','24 h'][datum.value]","tickSize":2,"tickColor":"#555","domainColor":"#444","labelPadding":2}}},"layer":[
{"data":{"name":"r6"},"mark":{"type":"area","color":"#D6CAD8","interpolate":"monotone"},"encoding":{"y":{"field":"lo","type":"quantitative","scale":{"domain":[-3.17,3.6],"nice":false,"zero":false},"axis":{"title":null,"labels":false,"values":[-3,-2,-1,0,1,2,3],"tickCount":7,"tickSize":2,"tickColor":"#555","domainColor":"#444"}},"y2":{"field":"hi"}}},
{"data":{"name":"l6"},"mark":{"type":"line","color":"#75507B","strokeWidth":1.2,"interpolate":"monotone"},"encoding":{"y":{"field":"y","type":"quantitative"},"detail":{"field":"g"}}},
{"data":{"name":"d6"},"mark":{"type":"area","color":"#75507B"},"encoding":{"y":{"field":"lo","type":"quantitative"},"y2":{"field":"hi"}}},
{"data":{"name":"t6"},"mark":{"type":"text","fontSize":11.5,"color":"#111"},"encoding":{"y":{"field":"y","type":"quantitative"},"text":{"field":"s"}}}
]}
],"spacing":18,"bounds":"flush"}
],"spacing":3,"bounds":"full"}
]}
